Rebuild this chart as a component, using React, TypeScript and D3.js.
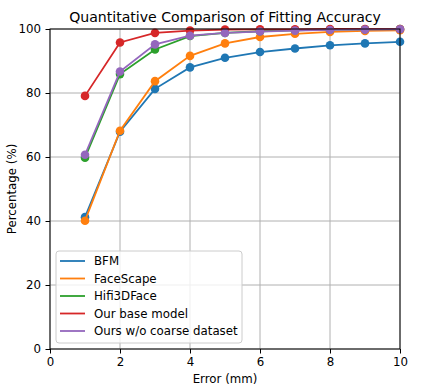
import React, { useEffect, useRef } from 'react';
import * as d3 from 'd3';

const errors = [1, 2, 3, 4, 5, 6, 7, 8, 9, 10];
const seriesNames = ['BFM', 'FaceScape', 'Hifi3DFace', 'Our base model', 'Ours w/o coarse dataset'];
const bfm = [41.2, 67.9, 81.3, 88.0, 91.0, 92.8, 93.9, 94.9, 95.5, 96.0];
const faceScape = [40.1, 68.2, 83.7, 91.6, 95.5, 97.5, 98.5, 99.1, 99.4, 99.6];
const hifi3d = [59.8, 85.9, 93.6, 97.8, 98.8, 99.3, 99.6, 99.8, 99.9, 100];
const baseModel = [79.1, 95.8, 98.8, 99.5, 99.8, 99.9, 99.9, 100, 100, 100];
const woCoarse = [60.7, 86.7, 95.2, 97.9, 98.8, 99.2, 99.5, 99.7, 99.8, 99.9];
const colors = ['#1f77b4', '#ff7f0e', '#2ca02c', '#d62728', '#9467bd'];
const xTicks = [0, 2, 4, 6, 8, 10];
const yTicks = [0, 20, 40, 60, 80, 100];

const App = () => {
  const svgRef = useRef<SVGSVGElement>(null);
  const width = 423;
  const height = 390;

  useEffect(() => {
    const svg = d3.select(svgRef.current);
    svg.selectAll('*').remove();

    const margin = { top: 29, right: 23, bottom: 41, left: 50 };
    const innerWidth = width - margin.left - margin.right;
    const innerHeight = height - margin.top - margin.bottom;
    const font = 'DejaVu Sans, sans-serif';
    const fs = 11.8;

    const x = d3.scaleLinear().domain([0, 10]).range([0, innerWidth]);
    const y = d3.scaleLinear().domain([0, 100]).range([innerHeight, 0]);

    svg.append('rect').attr('width', width).attr('height', height).attr('fill', '#fff');

    const g = svg.append('g').attr('transform', `translate(${margin.left},${margin.top})`);

    // grid
    g.append('g')
      .selectAll('line')
      .data(xTicks)
      .join('line')
      .attr('x1', d => x(d)).attr('x2', d => x(d))
      .attr('y1', 0).attr('y2', innerHeight)
      .attr('stroke', '#b0b0b0').attr('stroke-width', 1);
    g.append('g')
      .selectAll('line')
      .data(yTicks)
      .join('line')
      .attr('x1', 0).attr('x2', innerWidth)
      .attr('y1', d => y(d)).attr('y2', d => y(d))
      .attr('stroke', '#b0b0b0').attr('stroke-width', 1);

    const all = [bfm, faceScape, hifi3d, baseModel, woCoarse];
    const line = d3.line<number>()
      .x((_, i) => x(errors[i]))
      .y(d => y(d));

    all.forEach((vals, s) => {
      g.append('path')
        .datum(vals)
        .attr('fill', 'none')
        .attr('stroke', colors[s])
        .attr('stroke-width', 1.8)
        .attr('d', line);
      g.append('g')
        .selectAll('circle')
        .data(vals)
        .join('circle')
        .attr('cx', (_, i) => x(errors[i]))
        .attr('cy', d => y(d))
        .attr('r', 4.3)
        .attr('fill', colors[s]);
    });

    // frame
    g.append('rect')
      .attr('width', innerWidth).attr('height', innerHeight)
      .attr('fill', 'none').attr('stroke', '#000').attr('stroke-width', 1);

    const xAxis = g.append('g')
      .attr('transform', `translate(0,${innerHeight})`)
      .call(d3.axisBottom(x).tickValues(xTicks).tickSize(4.5).tickPadding(4.5).tickFormat(d3.format('d')));
    const yAxis = g.append('g')
      .call(d3.axisLeft(y).tickValues(yTicks).tickSize(4.5).tickPadding(4.5).tickFormat(d3.format('d')));
    [xAxis, yAxis].forEach(a => {
      a.select('.domain').remove();
      a.selectAll('line').attr('stroke', '#000').attr('stroke-width', 1);
      a.selectAll('text').attr('font-family', font).attr('font-size', fs).attr('fill', '#000');
    });

    g.append('text')
      .attr('x', innerWidth / 2).attr('y', innerHeight + 34)
      .attr('text-anchor', 'middle')
      .attr('font-family', font).attr('font-size', fs)
      .text('Error (mm)');

    g.append('text')
      .attr('transform', 'rotate(-90)')
      .attr('x', -innerHeight / 2).attr('y', -34)
      .attr('text-anchor', 'middle')
      .attr('font-family', font).attr('font-size', fs)
      .text('Percentage (%)');

    svg.append('text')
      .attr('x', margin.left + innerWidth / 2).attr('y', 22)
      .attr('text-anchor', 'middle')
      .attr('font-family', font).attr('font-size', 14.1)
      .text('Quantitative Comparison of Fitting Accuracy');

    // legend
    const legend = g.append('g').attr('transform', 'translate(6,222)');
    legend.append('rect')
      .attr('width', 186).attr('height', 92)
      .attr('rx', 3)
      .attr('fill', '#fff').attr('fill-opacity', 0.8)
      .attr('stroke', '#cccccc').attr('stroke-width', 1);
    seriesNames.forEach((name, i) => {
      const row = legend.append('g').attr('transform', `translate(0,${10 + i * 17.5})`);
      row.append('line')
        .attr('x1', 4).attr('x2', 29)
        .attr('stroke', colors[i]).attr('stroke-width', 1.8);
      row.append('text')
        .attr('x', 38).attr('dy', '0.35em')
        .attr('font-family', font).attr('font-size', fs)
        .text(name);
    });
  }, []);

  return (
    <svg ref={svgRef} width={width} height={height}
      style={{ position: 'absolute', left: 0, top: 0 }} />
  );
};

export default App;
